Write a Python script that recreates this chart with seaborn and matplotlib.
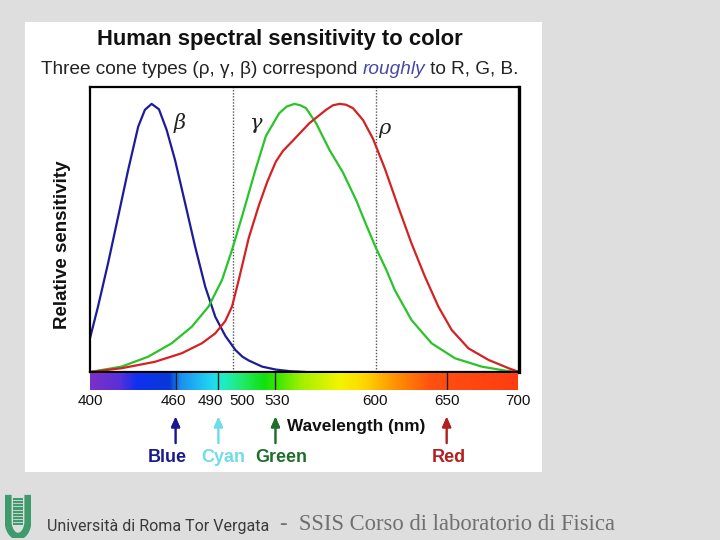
import seaborn as sns
import matplotlib.pyplot as plt
import matplotlib.transforms as mtransforms
from matplotlib.colors import LinearSegmentedColormap
from matplotlib.patches import Rectangle
import pandas as pd
import numpy as np

# cone sensitivity curves (wavelength nm, relative value)
beta_nm = [400, 405.6, 412.6, 419.7, 426.7, 433.7, 438.4, 443.1, 448.2, 453.6, 459.5, 466.5, 473.5, 480.6,
           487.6, 494.6, 501.7, 506.6, 511, 520.4, 530, 540, 551]
beta_val = [0.126, 0.244, 0.405, 0.58, 0.754, 0.915, 0.978, 1.0, 0.98, 0.903, 0.79, 0.63, 0.468, 0.318,
            0.206, 0.135, 0.082, 0.057, 0.043, 0.02, 0.009, 0.003, 0.0]

gamma_nm = [400, 422, 440.7, 457.1, 471.2, 482.9, 492.3, 499.3, 506.3, 515.7, 523, 532.3, 537.5, 542.9,
            547, 551.1, 558.1, 567.5, 576.8, 586.2, 593.2, 600.2, 607.3, 613.1, 624.8, 638.9, 655.3, 674,
            690.4, 700]
gamma_val = [0.0, 0.02, 0.057, 0.107, 0.169, 0.244, 0.343, 0.455, 0.58, 0.754, 0.88, 0.965, 0.99, 1.0,
             0.995, 0.984, 0.928, 0.828, 0.745, 0.64, 0.548, 0.46, 0.38, 0.306, 0.194, 0.107, 0.051, 0.02,
             0.005, 0.0]

rho_nm = [400, 422, 445.4, 464.2, 478.2, 487.6, 494.6, 499.3, 504, 511, 518, 524, 530, 535, 541.7, 553.4,
          565.1, 570, 574.5, 579, 583.9, 590.9, 597.9, 606.1, 615.5, 624.8, 634.2, 643.6, 652.9, 664.7,
          678.7, 692.8, 700]
rho_val = [0.0, 0.014, 0.038, 0.07, 0.107, 0.144, 0.19, 0.244, 0.343, 0.5, 0.62, 0.71, 0.785, 0.825,
           0.862, 0.928, 0.978, 0.995, 1.0, 0.997, 0.984, 0.94, 0.87, 0.76, 0.617, 0.48, 0.356, 0.244,
           0.157, 0.088, 0.045, 0.014, 0.0]

tick_nm = [400, 460, 490, 500, 530, 600, 650, 700]
band_marks = [460, 490, 530, 650]
dotted_nm = [500, 600]
arrow_nm = [460, 490, 530, 650]
arrow_names = ["Blue", "Cyan", "Green", "Red"]

df = pd.concat([
    pd.DataFrame({"nm": beta_nm, "val": beta_val, "cone": "beta"}),
    pd.DataFrame({"nm": gamma_nm, "val": gamma_val, "cone": "gamma"}),
    pd.DataFrame({"nm": rho_nm, "val": rho_val, "cone": "rho"}),
])

sns.set_theme(style="white")
plt.rcParams['font.family'] = ['Liberation Sans', 'DejaVu Sans']

fig = plt.figure(figsize=(7.2, 5.4), dpi=100)
fig.patch.set_facecolor("#dedede")
W, H = 720, 540

def fx(px):
    return px / W

def fy(py):
    return 1 - py / H

# white slide panel
fig.add_artist(Rectangle((fx(25), fy(472)), fx(542) - fx(25), fy(22) - fy(472),
                         transform=fig.transFigure, facecolor="white", edgecolor="none", zorder=0))

# main plot
ax = fig.add_axes([fx(90), fy(372), fx(519) - fx(90), fy(87) - fy(372)])
sns.lineplot(data=df, x="nm", y="val", hue="cone", sort=False, estimator=None,
             palette={"beta": "#1c1c9a", "gamma": "#28c428", "rho": "#d42222"},
             linewidth=1.6, legend=False, ax=ax)
for line in ax.get_lines():
    line.set_solid_joinstyle("round")
for d in dotted_nm:
    ax.axvline(d, color="#555555", linestyle=(0, (1, 1.2)), linewidth=1.0, zorder=0)
ax.set_xlim(400, 700)
ax.set_ylim(0, 1.063)
ax.set_xticks([])
ax.set_yticks([])
ax.set_xlabel("")
ax.set_ylabel("Relative sensitivity", fontsize=13.5, fontweight="bold", color="#111111")
ax.yaxis.set_label_coords(-0.045, 0.446)
for s in ax.spines.values():
    s.set_color("black")
    s.set_linewidth(1.6)
ax.spines["right"].set_linewidth(2.4)

# greek labels on the curves
greek = dict(fontsize=15, style="italic", family=["DejaVu Serif"], color="#222222", ha="center", va="center")
ax.text(463, 0.93, "β", **greek)
ax.text(516.5, 0.925, "γ", **greek)
ax.text(606, 0.91, "ρ", **greek)

# spectrum strip
spec = fig.add_axes([fx(90), fy(390), fx(518) - fx(90), fy(373) - fy(390)])
stops = [(400, "#7a30c8"), (420, "#5a30d8"), (432, "#1030f0"), (455, "#0838d8"), (463, "#1a90f0"),
         (485, "#20d8f0"), (493, "#20ecc8"), (508, "#20ea60"), (522, "#10e010"), (532, "#40e800"),
         (548, "#a0f000"), (575, "#f4f400"), (592, "#ffd800"), (615, "#ff9000"), (640, "#ff5010"),
         (700, "#ff3c10")]
cmap = LinearSegmentedColormap.from_list("spec", [((w - 400) / 300, c) for w, c in stops])
spec.imshow(np.linspace(0, 1, 600)[None, :], cmap=cmap, aspect="auto", extent=[400, 700, 0, 1])
for b in band_marks:
    spec.axvline(b, color="#202020", linewidth=1.0)
spec.set_xlim(400, 700)
spec.set_ylim(0, 1)
spec.set_yticks([])
spec.set_xticks(tick_nm)
spec.set_xticklabels([str(t) for t in tick_nm], fontsize=11, color="#111111")
spec.tick_params(axis="x", length=0, pad=3)
# the crowded labels are pushed apart a little, as in the original
label_shift = {460: -2, 490: -8, 500: 9, 530: 2}
for t, lab in zip(tick_nm, spec.get_xticklabels()):
    if t in label_shift:
        lab.set_transform(lab.get_transform() +
                          mtransforms.ScaledTranslation(label_shift[t] / 100, 0, fig.dpi_scale_trans))
for s in spec.spines.values():
    s.set_visible(False)

# arrows and colour names under the axis
trans = mtransforms.blended_transform_factory(spec.transData, fig.transFigure)
arrow_cols = ["#1a1a8c", "#70dcea", "#1f6e2a", "#b22020"]
name_nudge = [-8, 5, 6, 2]
for nm, name, c, dx in zip(arrow_nm, arrow_names, arrow_cols, name_nudge):
    fig.add_artist(plt.annotate("", xy=(nm, fy(414)), xytext=(nm, fy(446)), xycoords=trans, textcoords=trans,
                                arrowprops=dict(arrowstyle="-|>,head_length=0.5,head_width=0.22", color=c, lw=1.4)))
    spec.text(nm + dx / 1.423, fy(457), name, transform=trans, ha="center", va="center",
              fontsize=13, fontweight="bold", color=c)

fig.text(fx(356), fy(427), "Wavelength (nm)", ha="center", va="center", fontsize=12.4,
         fontweight="bold", color="#111111")

# titles
fig.text(fx(280), fy(40), "Human spectral sensitivity to color", ha="center", va="center",
         fontsize=15.8, fontweight="bold", color="#111111")
t1 = fig.text(fx(41), fy(69), "Three cone types (ρ, γ, β) correspond ", ha="left", va="center",
              fontsize=13.7, color="#222222")
t2 = ax.annotate("roughly", xy=(1, 0), xycoords=t1, va="bottom", ha="left", fontsize=13.7,
                 style="italic", color="#4848a8", annotation_clip=False)
ax.annotate(" to R, G, B.", xy=(1, 0), xycoords=t2, va="bottom", ha="left", fontsize=13.7,
            color="#222222", annotation_clip=False)

# footer logo
logo = fig.add_axes([fx(5), fy(538), fx(31) - fx(5), fy(494) - fy(538)])
logo.set_xlim(0, 1)
logo.set_ylim(0, 1)
logo.axis("off")
th = np.linspace(np.pi, 2 * np.pi, 40)
ux = np.concatenate([[0.12], 0.5 + 0.38 * np.cos(th), [0.88]])
uy = np.concatenate([[0.98], 0.38 + 0.34 * np.sin(th), [0.98]])
logo.plot(ux, uy, color="#3f9a6c", linewidth=5, solid_capstyle="butt")
logo.add_patch(Rectangle((0.3, 0.3), 0.4, 0.62, facecolor="#3f9a6c", edgecolor="none"))
for yy in np.linspace(0.36, 0.86, 8):
    logo.plot([0.32, 0.68], [yy, yy], color="#dedede", linewidth=0.6)

fig.text(fx(47), fy(527), "Università di Roma Tor Vergata", ha="left", va="center", fontsize=11.5,
         family=["Roboto", "DejaVu Sans"], color="#3a3a3a")
fig.text(fx(280), fy(525), "-  SSIS Corso di laboratorio di Fisica", ha="left", va="center", fontsize=16.3,
         family=["Liberation Serif", "DejaVu Serif"], color="#707070")

fig.savefig("out.png", dpi=100, facecolor=fig.get_facecolor())
